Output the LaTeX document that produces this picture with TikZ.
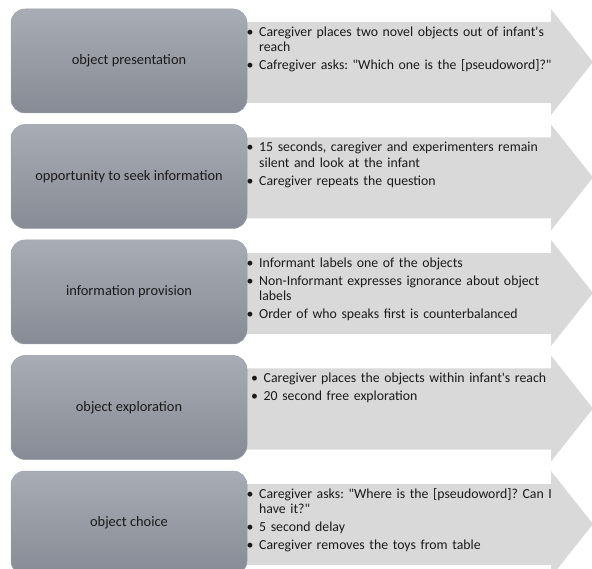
\documentclass[tikz,border=0pt]{standalone}
\usepackage{fontspec}
\setmainfont{Carlito}
\frenchspacing
\definecolor{boxtop}{HTML}{A8ACB4}
\definecolor{boxbot}{HTML}{868B95}
\definecolor{boxedge}{HTML}{9A9EA6}
\definecolor{arrowgray}{HTML}{D9D9DA}
\definecolor{labeltext}{HTML}{1A1A1A}
\definecolor{notetext}{HTML}{1A1A1A}
\newcommand{\bul}[1]{\par\hangindent=12.5pt\hangafter=1\noindent\makebox[12.5pt][l]{\textbullet}#1\par}
\newcommand{\bgap}{\vspace{2.5pt}}
\newcommand{\apos}{\textquotesingle}
\newcommand{\dq}{\textquotedbl}
\begin{document}
\begin{tikzpicture}[x=1pt,y=-1pt,
  stage/.style={rounded corners=14pt, minimum width=236pt, minimum height=104pt,
    top color=boxtop, bottom color=boxbot, draw=boxedge, line width=0.5pt,
    font=\fontsize{14.4}{16}\selectfont, text=labeltext, inner sep=0pt},
  notes/.style={anchor=north west, inner sep=0pt, text width=320pt, align=left,
    font=\fontsize{13.8}{15.5}\selectfont\frenchspacing, text=notetext}]
\useasboundingbox (0,0) rectangle (592,569);
\clip (0,0) rectangle (592,569);
% arrows
\foreach \T in {9,124.5,240,355.5,471}{
  \fill[arrowgray] (230,\T+13) -- (551,\T+13) -- (551,\T) -- (593,\T+53)
    -- (551,\T+106) -- (551,\T+94) -- (230,\T+94) -- cycle;
}
% stage boxes
\node[stage] (s1) at (129,61)    {object presentation};
\node[stage] (s2) at (129,176.5) {opportunity to seek information};
\node[stage] (s3) at (129,292)   {information provision};
\node[stage] (s4) at (129,407.5) {object exploration};
\node[stage] (s5) at (129,523)   {object choice};
% notes
\node[notes] (n1) at (246.5,20.6) {%
  \bul{\strut Caregiver places two novel objects out of infant\apos s\newline reach}\bgap
  \bul{Cafregiver asks: \dq Which one is the [pseudoword]?\dq}};
\node[notes] (n2) at (246.5,136.1) {%
  \bul{\strut 15 seconds, caregiver and experimenters remain\newline silent and look at the infant}\bgap
  \bul{Caregiver repeats the question}};
\node[notes] (n3) at (246.5,251.6) {%
  \bul{\strut Informant labels one of the objects}\bgap
  \bul{Non-Informant expresses ignorance about object\newline labels}\bgap
  \bul{Order of who speaks first is counterbalanced}};
\node[notes] (n4) at (251,367.1) {%
  \bul{\strut Caregiver places the objects within infant\apos s reach}\bgap
  \bul{20 second free exploration}};
\node[notes] (n5) at (246.5,482.6) {%
  \bul{\strut Caregiver asks: \dq Where is the [pseudoword]? Can I\newline have it?\dq}\bgap
  \bul{5 second delay}\bgap
  \bul{Caregiver removes the toys from table}};
\end{tikzpicture}
\end{document}
